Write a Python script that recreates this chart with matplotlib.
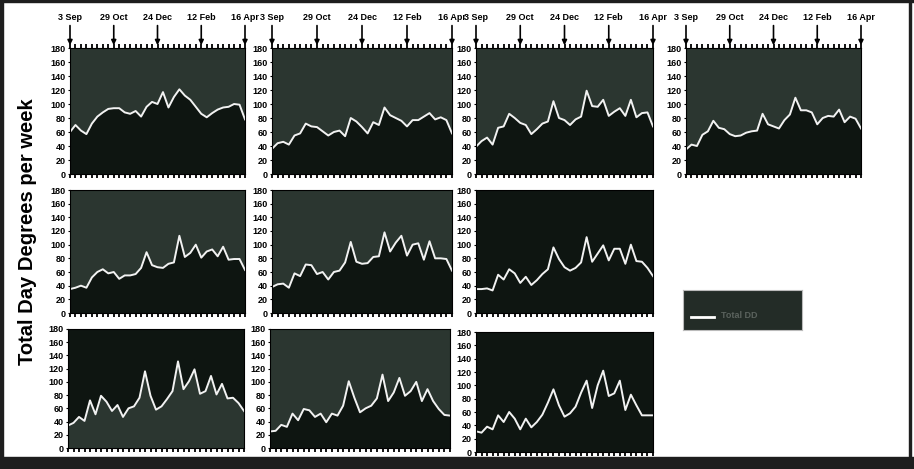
import numpy as np
import matplotlib.pyplot as plt
from matplotlib.patches import Rectangle

plt.rcParams['font.family'] = ['Liberation Sans', 'DejaVu Sans']
plt.rcParams['font.weight'] = 'bold'

weeks = np.arange(33)
date_labels = ["3 Sep", "29 Oct", "24 Dec", "12 Feb", "16 Apr"]
date_weeks = [0, 8, 16, 24, 32]
y_ticks = list(range(0, 181, 20))
y_label = "Total Day Degrees per week"
legend_label = "Total DD"

# weekly day-degree totals, one list per panel (row by row)
r1c1 = [60, 70, 62, 57, 72, 82, 88, 93, 94, 94, 88, 86, 90, 82, 96, 103, 100,
        117, 95, 110, 121, 112, 106, 96, 86, 81, 87, 92, 95, 96, 100, 99, 78]
r1c2 = [36, 44, 46, 42, 55, 58, 72, 68, 67, 61, 55, 60, 62, 54, 80, 75, 67,
        58, 74, 70, 95, 84, 80, 76, 68, 77, 77, 82, 87, 78, 81, 77, 58]
r1c3 = [39, 47, 52, 42, 66, 68, 86, 80, 73, 70, 57, 64, 72, 75, 104, 80, 77,
        70, 78, 82, 119, 97, 96, 106, 83, 89, 94, 83, 106, 81, 87, 88, 68]
r1c4 = [35, 42, 40, 56, 61, 76, 66, 64, 57, 54, 55, 59, 61, 62, 86, 71, 68,
        65, 77, 85, 109, 91, 91, 88, 71, 80, 83, 82, 92, 74, 82, 79, 65]
r2c1 = [35, 37, 40, 37, 52, 60, 64, 58, 60, 50, 55, 55, 57, 66, 89, 70, 67,
        66, 72, 74, 113, 82, 88, 100, 81, 90, 93, 83, 97, 78, 79, 79, 63]
r2c2 = [38, 42, 43, 37, 58, 54, 71, 70, 57, 60, 49, 60, 62, 74, 104, 75, 72,
        73, 82, 83, 118, 90, 103, 113, 84, 100, 102, 78, 105, 80, 80, 79, 62]
r2c3 = [35, 35, 36, 33, 56, 49, 64, 58, 44, 53, 41, 48, 57, 64, 96, 79, 67,
        62, 66, 74, 111, 75, 87, 99, 77, 94, 94, 72, 100, 76, 75, 66, 54]
r3c1 = [34, 38, 47, 41, 72, 51, 79, 70, 56, 65, 47, 60, 63, 76, 116, 79, 58,
        63, 74, 86, 131, 89, 101, 119, 82, 86, 109, 81, 97, 75, 76, 68, 56]
r3c2 = [25, 26, 35, 32, 52, 42, 59, 57, 47, 52, 39, 52, 49, 64, 101, 76, 54,
        60, 64, 75, 111, 71, 84, 106, 79, 86, 100, 71, 89, 71, 59, 50, 49]
r3c3 = [31, 29, 38, 34, 55, 45, 60, 50, 34, 50, 37, 45, 56, 74, 94, 70, 53,
        58, 68, 89, 107, 66, 100, 122, 84, 88, 107, 63, 86, 70, 55, 55, 55]

W, H = 914, 469
grey = '#2b3630'
black = '#0e1511'

# (values, left, top, right, bottom in pixels, colour above, colour below, top row?)
panels = [
    (r1c1, 70, 48, 245, 174, grey, black, True),
    (r1c2, 272, 48, 452, 174, grey, black, True),
    (r1c3, 476, 48, 653, 174, grey, black, True),
    (r1c4, 686, 48, 861, 174, grey, black, True),
    (r2c1, 70, 190, 245, 313, grey, black, False),
    (r2c2, 272, 190, 452, 313, grey, black, False),
    (r2c3, 476, 190, 653, 313, black, black, False),
    (r3c1, 68, 329, 244, 448, black, grey, False),
    (r3c2, 270, 329, 450, 448, grey, black, False),
    (r3c3, 476, 332, 653, 452, black, black, False),
]

fig = plt.figure(figsize=(W / 100, H / 100), dpi=100)

for vals, x0, y0, x1, y1, upper, lower, top_row in panels:
    ax = fig.add_axes([x0 / W, 1 - y1 / H, (x1 - x0) / W, (y1 - y0) / H])
    ax.set_facecolor(upper)
    ax.fill_between(weeks, 0, vals, color=lower, lw=0)
    ax.plot(weeks, vals, color='#f2f2f2', lw=1.4)
    ax.set_xlim(0, 32)
    ax.set_ylim(0, 180)
    ax.set_yticks(y_ticks)
    ax.set_xticks(weeks)
    ax.set_xticklabels([])
    ax.tick_params(axis='y', labelsize=6.5, length=1.5, pad=1.5)
    ax.tick_params(axis='x', direction='out', length=3, width=1.3,
                   color='black', top=top_row)
    for s in ax.spines.values():
        s.set_color('black')
        s.set_linewidth(0.8)
    if top_row:
        for lab, wk in zip(date_labels, date_weeks):
            ax.annotate('', xy=(wk, 1.0), xycoords=('data', 'axes fraction'),
                        xytext=(wk, 1.2), textcoords=('data', 'axes fraction'),
                        arrowprops=dict(arrowstyle='-|>', color='black',
                                        lw=1.2, mutation_scale=7),
                        annotation_clip=False)
            ax.text(wk, 1.245, lab, transform=ax.get_xaxis_transform(),
                    ha='center', va='center', fontsize=6.5, clip_on=False,
                    family=['Liberation Sans Narrow', 'Liberation Sans'])

fig.text(28 / W, 1 - 232 / H, y_label, rotation=90, ha='center', va='center',
         fontsize=14.5)

# legend box
lax = fig.add_axes([683 / W, 1 - 330 / H, 119 / W, 40 / H])
lax.set_facecolor('#232c27')
lax.set_xlim(0, 1)
lax.set_ylim(0, 1)
lax.set_xticks([])
lax.set_yticks([])
for s in lax.spines.values():
    s.set_color('#bbbbbb')
    s.set_linewidth(0.8)
lax.plot([0.07, 0.26], [0.32, 0.32], color='white', lw=2)
lax.text(0.32, 0.36, legend_label, color='#5a625d', fontsize=6.5,
         va='center', ha='left')

# scanned page frame
frame = '#1e1e1e'
fig.patches.append(Rectangle((0, 0), 1, 12 / H, transform=fig.transFigure,
                             color=frame, zorder=-1))
fig.patches.append(Rectangle((0, 0), 3 / W, 1, transform=fig.transFigure,
                             color=frame, zorder=-1))
fig.patches.append(Rectangle((0, 1 - 2 / H), 1, 2 / H, transform=fig.transFigure,
                             color=frame, zorder=-1))
fig.patches.append(Rectangle((1 - 5 / W, 0), 2 / W, 1, transform=fig.transFigure,
                             color=frame, zorder=-1))

fig.savefig('out.png', dpi=100)
